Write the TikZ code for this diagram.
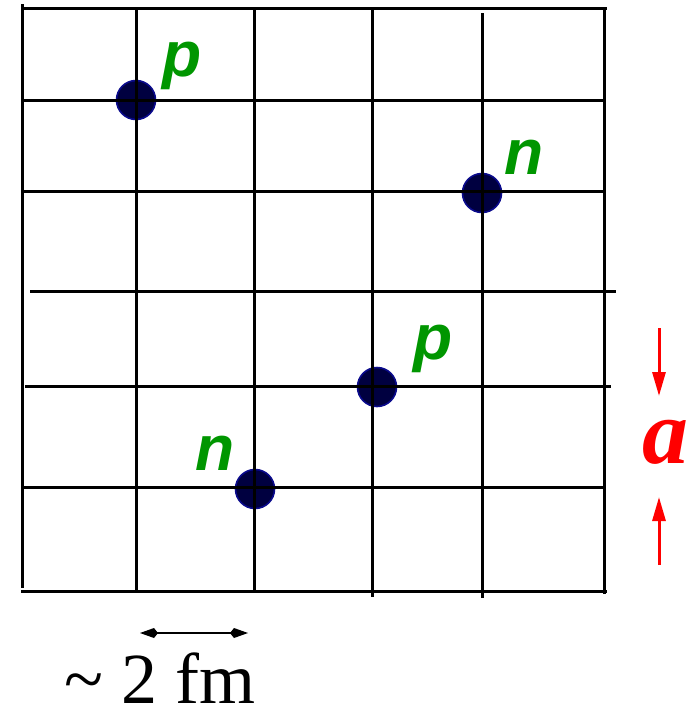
\documentclass[tikz,border=0pt]{standalone}
\usepackage{fontspec}
\setmainfont{Liberation Serif}
\newfontfamily\labelfont{Liberation Sans}
\usetikzlibrary{arrows.meta,positioning}
\definecolor{nucleongreen}{RGB}{0,150,0}
\definecolor{dotfill}{RGB}{0,0,64}
\definecolor{dotedge}{RGB}{10,10,140}

\begin{document}
\begin{tikzpicture}[
x=0.5pt, y=-0.5pt,
node distance=18pt and 21pt,
gridline/.style={line width=1.5pt, line cap=rect},
nucleon/.style={circle, draw=dotedge, fill=dotfill, line width=0.8pt, minimum size=19.5pt, inner sep=0pt},
tag/.style={font=\labelfont\bfseries\itshape\fontsize{32}{32}\selectfont, text=nucleongreen, inner sep=0pt, on grid},
arrow/.style={-{Triangle[length=12pt,width=6.5pt]}, line width=1.5pt, red},
span/.style={{Kite[length=9pt,width=5pt,inset=2pt]}-{Kite[length=9pt,width=5pt,inset=2pt]}, line width=1pt}
]
\useasboundingbox (0,0) rectangle (695,708);

% nucleons on the lattice
\node[nucleon] (pA) at (136,100) {};
\node[nucleon] (nA) at (482,193) {};
\node[nucleon] (pB) at (377,387) {};
\node[nucleon] (nB) at (255,489) {};

\node[tag, above right=17pt and 23pt of pA] (lpA) {p};
\node[tag, above right=18pt and 21pt of nA] (lnA) {n};
\node[tag, above right=19pt and 28pt of pB] (lpB) {p};
\node[tag, above left=18pt and 20pt of nB] (lnB) {n};

% lattice lines
\foreach \x/\t/\b in {22/5/586, 136/8/591, 254/8/591, 372/8/595, 482/14/596, 604/8/592}
  \draw[gridline] (\x,\t) -- (\x,\b);
\foreach \y/\l/\r in {8/22/605, 100/22/604, 191/22/604, 291/31/614, 386/26/609, 487/22/604, 591/22/605}
  \draw[gridline] (\l,\y) -- (\r,\y);

% lattice spacing
\coordinate (adown) at (659,328);
\coordinate (adowntip) at (659,396);
\coordinate (aup) at (659,565);
\coordinate (auptip) at (659,497);
\draw[arrow] (adown) -- (adowntip);
\draw[arrow] (aup) -- (auptip);
\node[text=red, font=\bfseries\itshape\fontsize{46}{46}\selectfont] (alat) at (665,442) {a};

% physical scale
\coordinate (sl) at (140,633);
\coordinate (sr) at (248,633);
\draw[span] (sl) -- (sr);
\node[anchor=base, font=\fontsize{36}{36}\selectfont, inner sep=0pt] (scale) at (160,703) {\textasciitilde\ 2 fm};
\end{tikzpicture}
\end{document}
